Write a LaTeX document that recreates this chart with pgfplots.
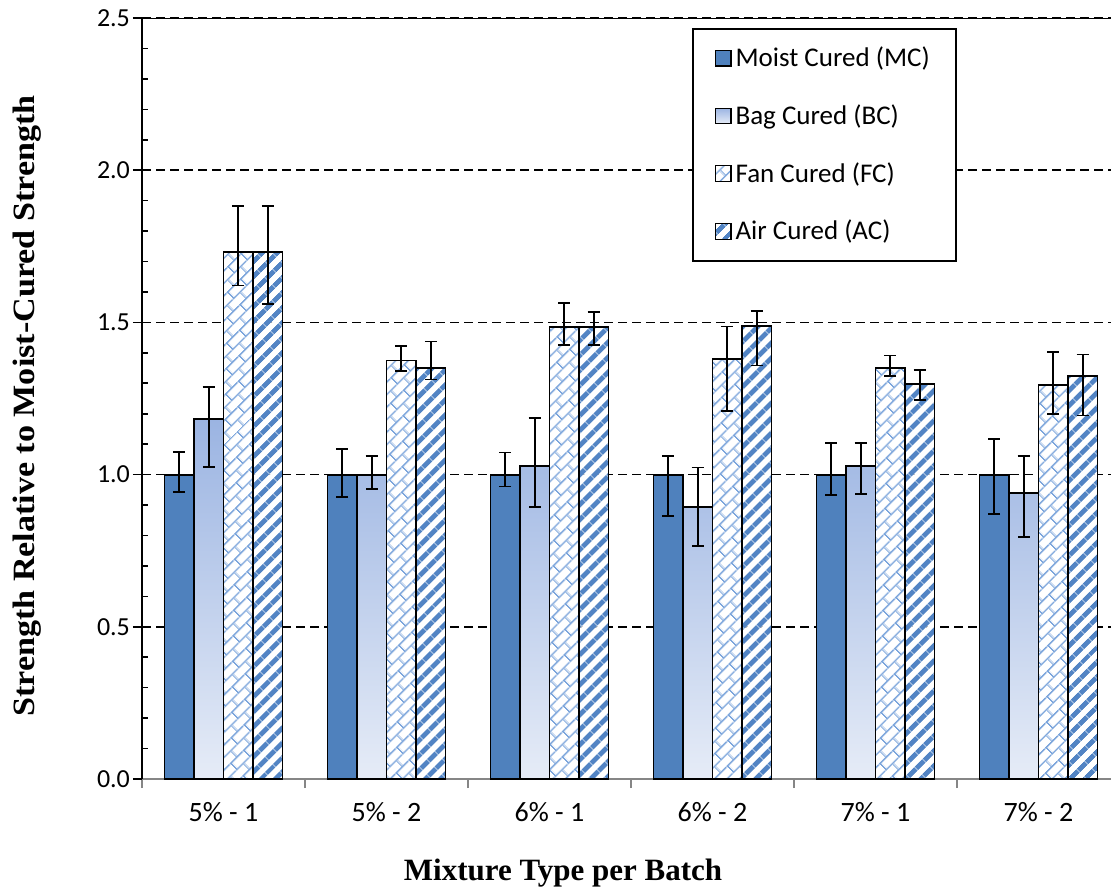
\documentclass[border=0pt]{standalone}
\usepackage{pgfplots}
\pgfplotsset{compat=1.18}
\usepackage{pgfplotstable}
\usepackage{fontspec}
\setmainfont{Carlito}
\newfontfamily\titlefont{Liberation Serif}
\usetikzlibrary{patterns,patterns.meta}

\definecolor{mcblue}{RGB}{79,129,189}
\definecolor{bctop}{RGB}{155,180,226}
\definecolor{bcbot}{RGB}{230,236,247}
\definecolor{fcblue}{RGB}{125,166,220}
\definecolor{acblue}{RGB}{82,132,196}
\definecolor{axisgray}{RGB}{134,134,134}

% diagonal brick fill (white ground) for the fan-cured bars
\pgfdeclarepattern{
  name=fcbricks,
  type=colored,
  bottom left={\pgfpointorigin},
  top right={\pgfpoint{9pt}{9pt}},
  tile size={\pgfpoint{9pt}{9pt}},
  tile transformation={\pgftransformrotate{45}},
  code={
    \pgfsetfillcolor{white}
    \pgfpathrectangle{\pgfpointorigin}{\pgfpoint{9pt}{9pt}}
    \pgfusepath{fill}
    \pgfsetstrokecolor{fcblue}
    \pgfsetlinewidth{0.8pt}
    \pgfpathmoveto{\pgfpoint{0pt}{0.5pt}}\pgfpathlineto{\pgfpoint{9pt}{0.5pt}}
    \pgfpathmoveto{\pgfpoint{0pt}{5pt}}\pgfpathlineto{\pgfpoint{9pt}{5pt}}
    \pgfpathmoveto{\pgfpoint{0.5pt}{0.5pt}}\pgfpathlineto{\pgfpoint{0.5pt}{5pt}}
    \pgfpathmoveto{\pgfpoint{5pt}{5pt}}\pgfpathlineto{\pgfpoint{5pt}{9pt}}
    \pgfusepath{stroke}
  }
}
% wide upward diagonal stripes (white ground) for the air-cured bars
\pgfdeclarepattern{
  name=acstripes,
  type=colored,
  bottom left={\pgfpointorigin},
  top right={\pgfpoint{5.4pt}{5.4pt}},
  tile size={\pgfpoint{5.4pt}{5.4pt}},
  tile transformation={\pgftransformrotate{45}},
  code={
    \pgfsetfillcolor{white}
    \pgfpathrectangle{\pgfpointorigin}{\pgfpoint{5.4pt}{5.4pt}}
    \pgfusepath{fill}
    \pgfsetfillcolor{acblue}
    \pgfpathrectangle{\pgfpointorigin}{\pgfpoint{5.4pt}{2.5pt}}
    \pgfusepath{fill}
  }
}

% x = mixture/batch index, y = relative strength, ep/em = upper/lower error
\pgfplotstableread{
x y ep em
0 1.000 0.075 0.057
1 1.000 0.084 0.074
2 1.000 0.073 0.039
3 1.000 0.062 0.136
4 1.000 0.104 0.066
5 1.000 0.116 0.130
}\mcdata
\pgfplotstableread{
x y ep em
0 1.183 0.104 0.157
1 1.000 0.062 0.047
2 1.029 0.158 0.135
3 0.893 0.130 0.128
4 1.028 0.076 0.091
5 0.941 0.120 0.147
}\bcdata
\pgfplotstableread{
x y ep em
0 1.730 0.153 0.109
1 1.375 0.047 0.034
2 1.486 0.077 0.061
3 1.379 0.108 0.170
4 1.351 0.040 0.027
5 1.294 0.109 0.096
}\fcdata
\pgfplotstableread{
x y ep em
0 1.730 0.153 0.169
1 1.350 0.087 0.038
2 1.486 0.048 0.061
3 1.488 0.049 0.130
4 1.299 0.044 0.054
5 1.324 0.071 0.130
}\acdata

\pgfplotsset{
  sqlegend/.style={legend image code/.code={
      \draw[##1, line width=0.6pt] (0pt,-3.9pt) rectangle (7.8pt,3.9pt);}},
  errs/.style={error bars/.cd, y dir=both, y explicit,
      error bar style={line width=0.85pt, black, solid},
      error mark options={rotate=90, mark size=3pt, line width=0.85pt, black}},
}

\begin{document}
\begin{tikzpicture}
\begin{axis}[
  at={(0,0)}, anchor=south west,
  scale only axis, width=484.5pt, height=380.5pt,
  ybar=0pt, bar width=0.181,
  xmin=-0.5, xmax=5.445, ymin=0, ymax=2.5,
  axis lines=left,
  axis line style={-, line width=0.9pt},
  x axis line style={draw=axisgray},
  tick align=outside,
  major tick length=4.5pt,
  tick style={line width=0.8pt},
  y tick style={black},
  x tick style={axisgray},
  ytick={0,0.5,...,2.5},
  extra y ticks={0.1,0.2,0.3,0.4,0.6,0.7,0.8,0.9,1.1,1.2,1.3,1.4,1.6,1.7,1.8,1.9,2.1,2.2,2.3,2.4},
  extra y tick labels={},
  extra y tick style={tick align=inside, major tick length=3pt, grid=none},
  xtick={-0.5,0.5,1.5,2.5,3.5,4.5},
  xticklabels={},
  extra x ticks={0,1,2,3,4,5},
  extra x tick labels={5\% - 1,5\% - 2,6\% - 1,6\% - 2,7\% - 1,7\% - 2},
  extra x tick style={major tick length=0pt, grid=none,
    x tick label style={font=\fontsize{14}{16}\selectfont, yshift=-8pt}},
  ymajorgrids,
  major grid style={black, line width=0.8pt, dash pattern=on 4.5pt off 2.5pt},
  /pgf/number format/assume math mode=true,
  tick label style={font=\fontsize{13}{15}\selectfont},
  y tick label style={xshift=2pt, /pgf/number format/fixed, /pgf/number format/fixed zerofill, /pgf/number format/precision=1},
  xlabel={\titlefont\bfseries\fontsize{15.5}{18}\selectfont Mixture Type per Batch},
  ylabel={\titlefont\bfseries\fontsize{15.5}{18}\selectfont\scalebox{1.1}[1]{Strength Relative to Moist-Cured Strength}},
  xlabel style={at={(axis description cs:0.4345,-0.124)}, anchor=center},
  ylabel style={at={(axis description cs:-0.118,0.49)}, anchor=center},
  legend cell align=left,
  legend style={at={(0.5676,0.9869)}, anchor=north west, draw=black, line width=0.8pt,
    fill=white, font=\fontsize{13.5}{16}\selectfont, inner xsep=11pt, inner ysep=7pt,
    row sep=13.5pt},
]
\addplot[draw=black, line width=0.95pt, fill=mcblue, sqlegend, errs]
  table[x=x, y=y, y error plus=ep, y error minus=em] {\mcdata};
\addlegendentry{Moist Cured (MC)}
\addplot[draw=black, line width=0.95pt, top color=bctop, bottom color=bcbot, sqlegend, errs]
  table[x=x, y=y, y error plus=ep, y error minus=em] {\bcdata};
\addlegendentry{Bag Cured (BC)}
\addplot[draw=black, line width=0.95pt, pattern=fcbricks, sqlegend, errs]
  table[x=x, y=y, y error plus=ep, y error minus=em] {\fcdata};
\addlegendentry{Fan Cured (FC)}
\addplot[draw=black, line width=0.95pt, pattern=acstripes, sqlegend, errs]
  table[x=x, y=y, y error plus=ep, y error minus=em] {\acdata};
\addlegendentry{Air Cured (AC)}
\draw[line width=0.9pt] (rel axis cs:0,1) -- (rel axis cs:1,1);
\end{axis}
\pgfresetboundingbox
\useasboundingbox (-71pt,-55.5pt) rectangle (484.5pt,389.5pt);
\end{tikzpicture}
\end{document}
